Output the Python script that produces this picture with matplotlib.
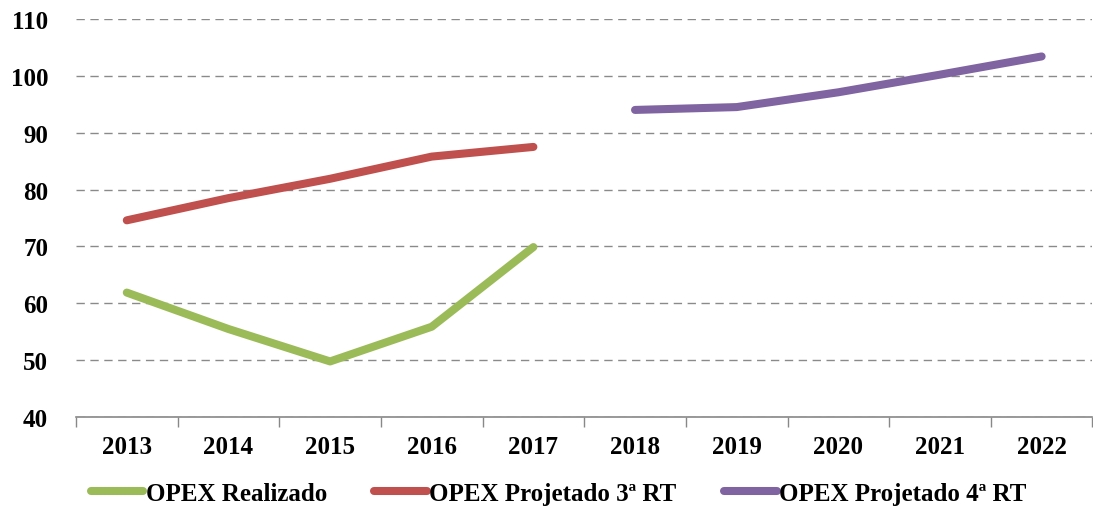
import matplotlib.pyplot as plt
import numpy as np

anos = ['2013', '2014', '2015', '2016', '2017', '2018', '2019', '2020', '2021', '2022']
opex_realizado = [61.9, 55.5, 49.8, 55.9, 69.9]
opex_3rt = [74.6, 78.5, 81.9, 85.8, 87.5]
opex_4rt = [94.0, 94.5, 97.1, 100.2, 103.4]

plt.rcParams['font.family'] = ['Liberation Serif', 'DejaVu Serif']
plt.rcParams['font.weight'] = 'bold'

fig = plt.figure(figsize=(10.93, 5.10), dpi=100)
ax = fig.add_axes([0.0695, 0.180, 0.93, 0.781])

x = np.arange(len(anos))
ax.plot(x[0:5], opex_realizado, color='#9BBB59', lw=5.8, solid_capstyle='round',
        solid_joinstyle='round', label='OPEX Realizado')
ax.plot(x[0:5], opex_3rt, color='#C0504D', lw=5.8, solid_capstyle='round',
        solid_joinstyle='round', label='OPEX Projetado 3ª RT')
ax.plot(x[5:10], opex_4rt, color='#8064A2', lw=5.8, solid_capstyle='round',
        solid_joinstyle='round', label='OPEX Projetado 4ª RT')

ax.set_xlim(-0.5, 9.5)
ax.set_ylim(40, 110)
ax.set_yticks(np.arange(40, 111, 10))
ax.yaxis.grid(True, color='#8a8a8a', linestyle=(0, (6, 4)), lw=1.0)
ax.set_axisbelow(True)

ax.set_xticks(x)
ax.set_xticklabels(anos)
ax.set_xticks(np.arange(-0.5, 10, 1), minor=True)
ax.tick_params(axis='x', which='major', length=0, pad=13, labelsize=18)
ax.tick_params(axis='x', which='minor', length=7, color='#888888', width=1)
ax.tick_params(axis='y', length=0, pad=20, labelsize=18)

for s in ['left', 'right', 'top']:
    ax.spines[s].set_visible(False)
ax.spines['bottom'].set_color('#888888')
ax.spines['bottom'].set_linewidth(1.2)

fig.legend(loc='center', bbox_to_anchor=(0.511, 0.031), ncol=3, frameon=False,
           fontsize=18, handlelength=2.1, handletextpad=0.1, columnspacing=1.9,
           borderpad=0, borderaxespad=0)

fig.savefig('out.png', dpi=100)
